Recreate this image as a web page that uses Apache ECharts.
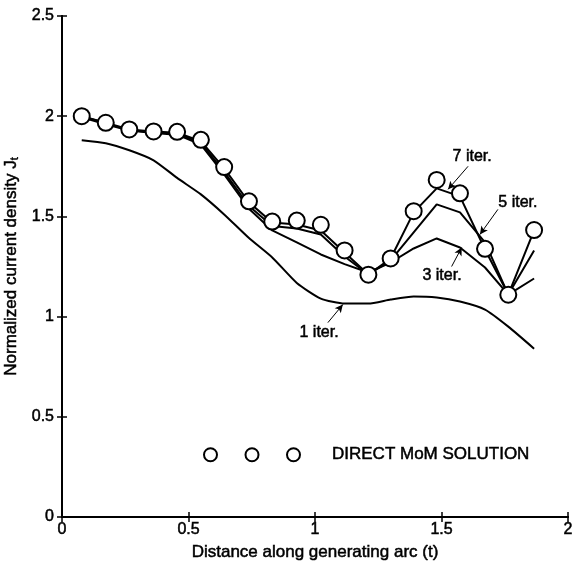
<!DOCTYPE html>
<html>
<head>
<meta charset="UTF-8">
<title>Normalized current density</title>
<script src="https://cdn.jsdelivr.net/npm/echarts@6/dist/echarts.min.js"></script>
<style>
    html, body { margin: 0; padding: 0; background: #fff; }
    #main { width: 573px; height: 561px; }
</style>
</head>
<body>
<div id="main"></div>
<script>
    // sample points along the generating arc (t)
    const arcT = [0.078, 0.173, 0.266, 0.362, 0.455, 0.549, 0.641, 0.739, 0.831, 0.928,
                  1.023, 1.117, 1.211, 1.299, 1.390, 1.481, 1.573, 1.672, 1.764, 1.866];

    // direct MoM solution (circles)
    const directMoM = [2.00, 1.967, 1.934, 1.924, 1.922, 1.882, 1.746, 1.575, 1.474, 1.479,
                       1.458, 1.330, 1.209, 1.290, 1.526, 1.682, 1.615, 1.338, 1.109, 1.432];

    // iterative solutions
    const iter7 = [2.00, 1.967, 1.934, 1.924, 1.918, 1.875, 1.740, 1.570, 1.470, 1.460,
                   1.430, 1.320, 1.210, 1.290, 1.520, 1.640, 1.600, 1.335, 1.110, 1.430];
    const iter5 = [2.00, 1.965, 1.930, 1.920, 1.914, 1.866, 1.722, 1.552, 1.452, 1.440,
                   1.410, 1.300, 1.210, 1.280, 1.420, 1.560, 1.520, 1.370, 1.110, 1.330];
    const iter3 = [1.995, 1.960, 1.928, 1.916, 1.908, 1.858, 1.710, 1.538, 1.430, 1.370,
                   1.310, 1.262, 1.220, 1.270, 1.340, 1.390, 1.345, 1.245, 1.110, 1.190];
    const iter1 = [1.880, 1.865, 1.830, 1.780, 1.692, 1.610, 1.510, 1.392, 1.295, 1.168,
                   1.090, 1.065, 1.065, 1.085, 1.100, 1.095, 1.075, 1.035, 0.950, 0.840];

    // annotation text and arrows, in data units [t, J]
    const noteText = ['7 iter.', '5 iter.', '3 iter.', '1 iter.'];
    const noteAt   = [[1.621, 1.80], [1.802, 1.57], [1.502, 1.205], [1.016, 0.92]];
    const arrowTail = [[1.605, 1.75], [1.723, 1.535], [1.540, 1.250], [1.051, 0.97]];
    const arrowHead = [[1.526, 1.635], [1.652, 1.410], [1.580, 1.345], [1.110, 1.06]];

    const legendName = 'DIRECT MoM SOLUTION';
    const font = 'Liberation Sans, Arial, Helvetica, sans-serif';
    // slight stroke so the text looks like the scanned print
    const ink = { color: '#000', fontFamily: font, textBorderColor: '#000', textBorderWidth: 0.5 };

    const pairs = vals => arcT.map((t, i) => [t, vals[i]]);

    // three rings used as the legend icon
    const ring = cx => 'M' + (cx - 6.5) + ',6.5 a6.5,6.5 0 1,0 13,0 a6.5,6.5 0 1,0 -13,0 ';
    const ringsIcon = 'path://' + ring(6.5) + ring(48) + ring(89.5);

    const axisCommon = {
        type: 'value',
        axisLine: { show: true, lineStyle: { color: '#000', width: 2 } },
        axisTick: { show: true, inside: true, length: 5, lineStyle: { color: '#000', width: 1.5 } },
        splitLine: { show: false }
    };
    const labelStyle = Object.assign({ show: true, fontSize: 16 }, ink);

    function lineSeries(name, vals, extra) {
        return Object.assign({
            name: name,
            type: 'line',
            data: pairs(vals),
            symbol: 'none',
            silent: true,
            lineStyle: { color: '#000', width: 2 },
            z: 2
        }, extra || {});
    }

    let chart = echarts.init(document.getElementById('main'));

    let option = {
        backgroundColor: '#fff',
        animation: false,
        grid: { left: 62, right: 5, top: 16, bottom: 44, outerBoundsMode: 'none', containLabel: false },
        legend: {
            data: [{
                name: legendName,
                icon: ringsIcon,
                itemStyle: { color: '#fff', borderColor: '#000', borderWidth: 2, opacity: 1 }
            }],
            left: 203,
            top: 446,
            padding: 0,
            itemWidth: 96,
            itemHeight: 13,
            selectedMode: false,
            textStyle: Object.assign({ fontSize: 17, padding: [0, 0, 0, 27] }, ink)
        },
        xAxis: [
            Object.assign({}, axisCommon, {
                min: 0, max: 2, interval: 0.5, position: 'bottom',
                name: 'Distance along generating arc (t)',
                nameLocation: 'middle', nameGap: 20,
                nameTextStyle: Object.assign({ fontSize: 17 }, ink),
                axisLabel: Object.assign({ margin: 5 }, labelStyle)
            }),
            Object.assign({}, axisCommon, {
                min: 0, max: 2, interval: 0.5, position: 'top',
                axisLabel: { show: false }
            })
        ],
        yAxis: [
            Object.assign({}, axisCommon, {
                min: 0, max: 2.5, interval: 0.5, position: 'left',
                name: 'Normalized current density J{sub|t}',
                nameLocation: 'middle', nameGap: 36,
                nameTextStyle: Object.assign({
                    fontSize: 17,
                    rich: { sub: Object.assign({ fontSize: 11, verticalAlign: 'bottom', padding: [7, 0, 0, 0] }, ink) }
                }, ink),
                axisLabel: Object.assign({ margin: 8 }, labelStyle)
            }),
            Object.assign({}, axisCommon, {
                min: 0, max: 2.5, interval: 0.5, position: 'right',
                axisLabel: { show: false }
            })
        ],
        series: [
            lineSeries('1 iter.', iter1, {
                smooth: 0.2,
                markLine: {
                    silent: true,
                    symbol: ['none', 'arrow'],
                    symbolSize: [6, 8],
                    lineStyle: { color: '#000', width: 1, type: 'solid' },
                    label: { show: false },
                    data: arrowTail.map((p, i) => [{ coord: p }, { coord: arrowHead[i] }])
                },
                markPoint: {
                    silent: true,
                    symbol: 'circle',
                    symbolSize: 1,
                    itemStyle: { color: 'rgba(0,0,0,0)' },
                    label: Object.assign({
                        show: true, position: 'inside', fontSize: 16,
                        formatter: p => p.name
                    }, ink),
                    data: noteText.map((txt, i) => ({ name: txt, coord: noteAt[i] }))
                }
            }),
            lineSeries('3 iter.', iter3),
            lineSeries('5 iter.', iter5),
            lineSeries('7 iter.', iter7),
            {
                name: legendName,
                type: 'scatter',
                data: pairs(directMoM),
                symbol: 'circle',
                symbolSize: 16,
                itemStyle: { color: '#fff', borderColor: '#000', borderWidth: 2, opacity: 1 },
                z: 5
            }
        ]
    };

    chart.setOption(option);
</script>
</body>
</html>
